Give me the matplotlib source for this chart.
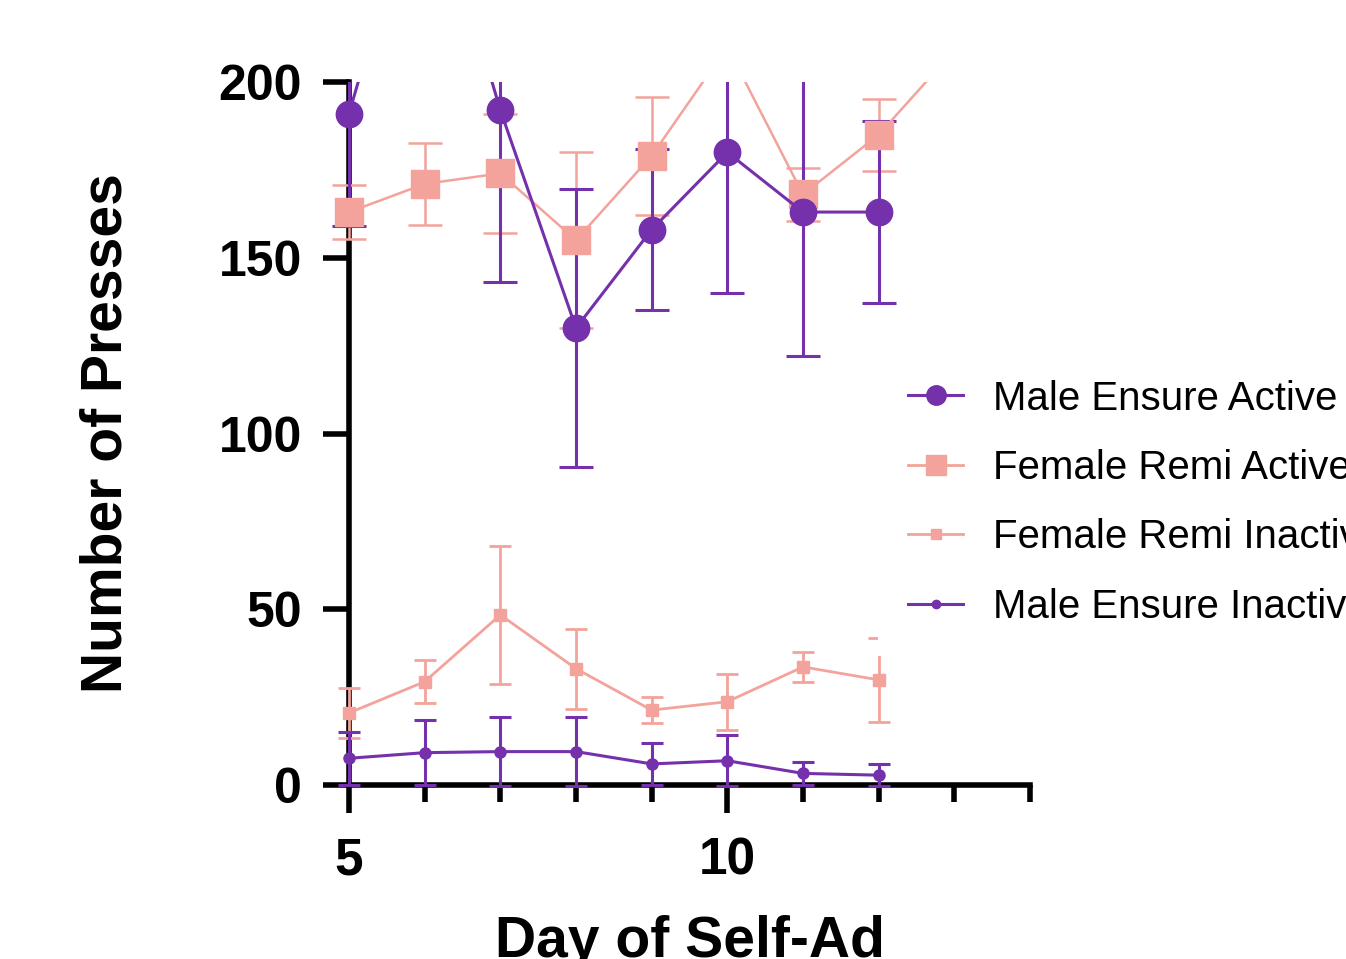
import matplotlib
matplotlib.use("Agg")
import matplotlib.pyplot as plt
from matplotlib.lines import Line2D
from matplotlib.patches import Rectangle

plt.rcParams['font.family'] = ['Liberation Sans', 'DejaVu Sans']

# Lever presses per session (mean and SEM)
days = [5, 6, 7, 8, 9, 10, 11, 12]
days_fr_active = [5, 6, 7, 8, 9, 10, 11, 12, 13]

male_active = [191, 265, 192, 130, 158, 180, 163, 163]
male_active_sem = [32, 30, 49, 39.5, 23, 40, 41, 26]

female_active = [163, 171, 174, 155, 179, 210, 168, 185, 209]
female_active_sem = [7.6, 11.7, 17, 25, 16.7, 8, 7.6, 10.3, 8]

female_inactive = [20.5, 29.4, 48.4, 33.1, 21.3, 23.7, 33.6, 29.9]
female_inactive_sem = [7, 6.2, 19.6, 11.4, 3.6, 8, 4.2, 12]

male_inactive = [7.6, 9.2, 9.5, 9.5, 6.0, 6.9, 3.3, 2.8]
male_inactive_sem = [7.6, 9.3, 9.9, 9.9, 6.0, 7.3, 3.3, 3.2]

labels = ['Male Ensure Active', 'Female Remi Active',
          'Female Remi Inactive', 'Male Ensure Inactive']

purple = '#7530AC'
pink = '#F3A39B'

fig = plt.figure(figsize=(13.46, 9.59), dpi=100)
W, H = 1346, 959
ax = fig.add_axes([349 / W, 1 - 785 / H, (1030 - 349) / W, (785 - 82) / H])

# clip only at the top of the plot so symbols can sit over the axes
clip_rect = Rectangle((-0.2, -0.2), 1.5, 1.2, transform=ax.transAxes,
                      facecolor='none', edgecolor='none')


def draw(x, y, err, color, marker, ms, lw, capsize):
    cont = ax.errorbar(x, y, yerr=err, color=color, marker=marker, ms=ms,
                       lw=lw, elinewidth=lw, capsize=capsize, capthick=lw,
                       zorder=3)
    parts = [cont.lines[0]] + list(cont.lines[1]) + list(cont.lines[2])
    for a in parts:
        a.set_clip_box(None)
        a.set_clip_path(clip_rect)
    return cont


draw(days, female_inactive, female_inactive_sem, pink, 's', 8, 2.0, 8)
draw(days, male_inactive, male_inactive_sem, purple, 'o', 8, 2.2, 8)
draw(days_fr_active, female_active, female_active_sem, pink, 's', 20, 1.8, 12)
draw(days, male_active, male_active_sem, purple, 'o', 19, 2.2, 12)

ax.set_xlim(5, 14)
ax.set_ylim(0, 200)
for side in ['top', 'right']:
    ax.spines[side].set_visible(False)
for side in ['left', 'bottom']:
    ax.spines[side].set_linewidth(4)

ax.set_xticks([5, 10])
ax.set_xticks(range(5, 15), minor=True)
ax.set_yticks([0, 50, 100, 150, 200])
ax.tick_params(axis='x', which='major', length=20, width=4, pad=17,
               labelsize=37)
ax.tick_params(axis='x', which='minor', length=12, width=4)
ax.tick_params(axis='y', length=19, width=4, pad=15, labelsize=36)
for t in ax.get_xticklabels() + ax.get_yticklabels():
    t.set_fontweight('bold')

ax.set_ylabel('Number of Presses', fontsize=41, fontweight='bold')
ax.yaxis.set_label_coords(-0.316, 0.5)
ax.set_xlabel('Day of Self-Ad', fontsize=41, fontweight='bold')
ax.xaxis.set_label_coords(0.5, -0.185)

handles = [
    Line2D([], [], color=purple, lw=2.2, marker='o', ms=14),
    Line2D([], [], color=pink, lw=2.0, marker='s', ms=14),
    Line2D([], [], color=pink, lw=2.0, marker='s', ms=7),
    Line2D([], [], color=purple, lw=2.2, marker='o', ms=6),
]
leg = ax.legend(handles, labels, loc='lower left',
                bbox_to_anchor=(878 / W, 1 - 656 / H),
                bbox_transform=fig.transFigure, fontsize=29,
                frameon=True, facecolor='white', edgecolor='none',
                framealpha=1, fancybox=False, borderpad=0.75,
                handlelength=1.365, handletextpad=0.745, labelspacing=0.78,
                borderaxespad=0)
leg.set_zorder(5)

fig.savefig('out.png', dpi=100)
